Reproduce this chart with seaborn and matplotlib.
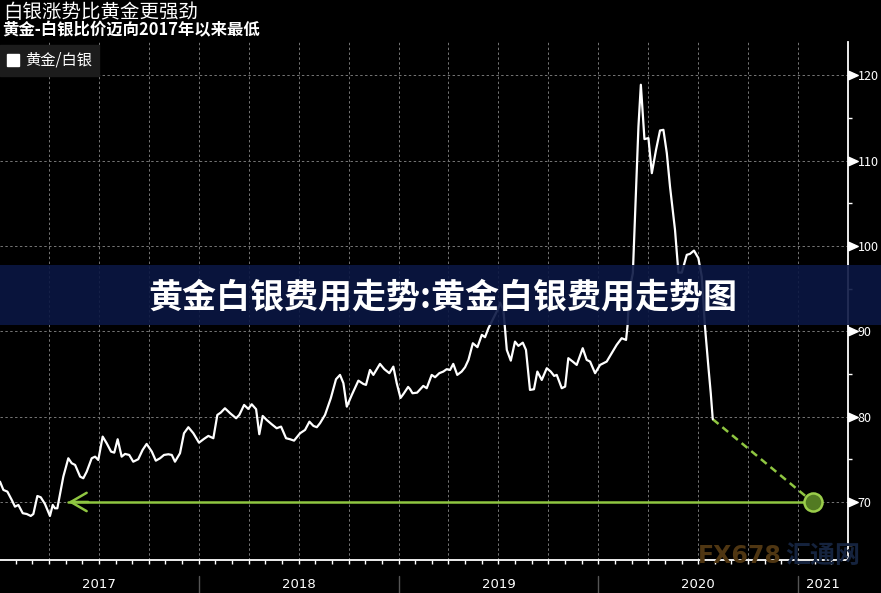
import pandas as pd
import seaborn as sns
import matplotlib.pyplot as plt
import matplotlib.transforms as mtransforms
from matplotlib.lines import Line2D
from matplotlib.patches import Rectangle

# 黄金/白银比价 (年份用小数表示, 数值从原图读取)
years = [
    2017.005, 2017.022, 2017.042, 2017.064, 2017.080, 2017.097, 2017.119, 2017.139, 2017.159, 2017.172,
    2017.192, 2017.209, 2017.230, 2017.255, 2017.269, 2017.280, 2017.292, 2017.322, 2017.347, 2017.364,
    2017.381, 2017.406, 2017.422, 2017.439, 2017.464, 2017.481, 2017.497, 2017.519, 2017.539, 2017.561,
    2017.577, 2017.594, 2017.614, 2017.631, 2017.652, 2017.672, 2017.697, 2017.719, 2017.739, 2017.765,
    2017.785, 2017.806, 2017.826, 2017.848, 2017.865, 2017.881, 2017.906, 2017.926, 2017.948, 2017.973,
    2018.001, 2018.026, 2018.048, 2018.073, 2018.093, 2018.110, 2018.131, 2018.157, 2018.187, 2018.203,
    2018.227, 2018.248, 2018.265, 2018.287, 2018.303, 2018.320, 2018.340, 2018.365, 2018.390, 2018.412,
    2018.437, 2018.457, 2018.477, 2018.507, 2018.532, 2018.554, 2018.574, 2018.591, 2018.607, 2018.632,
    2018.661, 2018.687, 2018.707, 2018.724, 2018.741, 2018.766, 2018.799, 2018.824, 2018.837, 2018.857,
    2018.874, 2018.907, 2018.929, 2018.954, 2018.974, 2018.991,
    2019.010, 2019.026, 2019.048, 2019.058, 2019.070, 2019.093, 2019.124, 2019.141, 2019.166, 2019.183,
    2019.204, 2019.224, 2019.241, 2019.258, 2019.274, 2019.294, 2019.316, 2019.333, 2019.350, 2019.372,
    2019.395, 2019.417, 2019.433, 2019.450, 2019.475, 2019.500, 2019.508, 2019.525, 2019.542, 2019.562,
    2019.583, 2019.600, 2019.622, 2019.638, 2019.658, 2019.678, 2019.695, 2019.717, 2019.742, 2019.762,
    2019.779, 2019.792, 2019.817, 2019.834, 2019.850, 2019.872, 2019.892, 2019.922, 2019.942, 2019.959,
    2019.984,
    2020.009, 2020.042, 2020.067, 2020.092, 2020.117, 2020.139, 2020.146, 2020.156, 2020.173, 2020.184,
    2020.201, 2020.213, 2020.231, 2020.251, 2020.268, 2020.289, 2020.309, 2020.326, 2020.343, 2020.359,
    2020.384, 2020.401, 2020.418, 2020.443, 2020.459, 2020.479, 2020.501, 2020.518, 2020.534, 2020.551,
    2020.563, 2020.573,
]
ratio = [
    72.38, 71.41, 71.21, 70.23, 69.45, 69.65, 68.68, 68.59, 68.36, 68.59,
    70.70, 70.55, 69.77, 68.36, 69.65, 69.26, 69.26, 72.97, 75.12, 74.54,
    74.34, 72.97, 72.78, 73.55, 75.12, 75.31, 74.92, 77.66, 76.88, 75.90,
    75.78, 77.35, 75.31, 75.63, 75.51, 74.72, 75.01, 76.10, 76.80, 75.90,
    74.84, 75.12, 75.51, 75.59, 75.51, 74.72, 75.71, 78.05, 78.76, 78.05,
    76.95, 77.39, 77.74, 77.47, 80.20, 80.47, 80.98, 80.40, 79.81, 80.20,
    81.37, 80.90, 81.45, 80.87, 77.94, 80.08, 79.61, 79.11, 78.64, 78.83,
    77.47, 77.35, 77.19, 78.05, 78.44, 79.41, 78.91, 78.76, 79.23, 80.20,
    82.16, 84.38, 84.89, 83.92, 81.17, 82.54, 84.22, 83.83, 83.72, 85.47,
    84.89, 86.18, 85.56, 85.09, 85.86, 83.92,
    82.19, 82.70, 83.48, 83.21, 82.74, 82.81, 83.60, 83.33, 84.89, 84.62,
    85.09, 85.28, 85.56, 85.47, 86.18, 84.89, 85.28, 85.79, 86.65, 88.60,
    88.14, 89.58, 89.31, 90.36, 91.54, 92.71, 93.36, 92.51, 87.82, 86.56,
    88.79, 88.29, 88.67, 87.82, 83.13, 83.21, 85.28, 84.30, 85.67, 85.28,
    84.77, 84.89, 83.33, 83.52, 86.85, 86.45, 86.06, 88.02, 86.65, 86.45,
    85.09,
    86.06, 86.45, 87.43, 88.41, 89.19, 88.99, 90.55, 94.85, 96.81, 103.45,
    114.00, 118.89, 112.52, 112.64, 108.53, 111.26, 113.53, 113.61, 110.88, 106.96,
    101.89, 96.88, 96.88, 98.96, 99.07, 99.46, 98.57, 96.41, 90.55, 85.86,
    82.74, 79.70,
]

# 2017年以来低点及目标
low_level = 70
arrow_start = 2017.347
target_year = 2021.073

year_labels = ["2017", "2018", "2019", "2020", "2021"]
year_centers = [2017.5, 2018.5, 2019.5, 2020.5, 2021.125]
year_edges = [2018, 2019, 2020, 2021]
y_ticks = [70, 80, 90, 100, 110, 120]
y_minor = [65, 75, 85, 95, 105, 115]

title = "白银涨势比黄金更强劲"
subtitle = "黄金-白银比价迈向2017年以来最低"
legend_label = "黄金/白银"
banner_text = "黄金白银费用走势:黄金白银费用走势图"

GREEN = "#8fc641"
GRID = "#767676"
NARROW = ["Liberation Sans Narrow", "DejaVu Sans Condensed", "DejaVu Sans"]

sns.set_theme(style="dark")
plt.rcParams["font.family"] = ["Noto Sans CJK SC", "DejaVu Sans"]
plt.rcParams["axes.unicode_minus"] = False

fig = plt.figure(figsize=(8.81, 5.93), dpi=100, facecolor="black")
ax = fig.add_axes([0, 33 / 593, 848 / 881, 518 / 593])
ax.set_facecolor("black")

df = pd.DataFrame({"year": years, "ratio": ratio})
sns.lineplot(data=df, x="year", y="ratio", color="white", linewidth=1.6, ax=ax, zorder=5)

# 网格 (季度竖线 + 整十横线)
quarters = [2017 + q / 4 for q in range(1, 17)]
for q in quarters:
    ax.axvline(q, color=GRID, lw=0.7, ls=(0, (2.5, 2.5)), zorder=1)
for t in y_ticks:
    ax.axhline(t, color=GRID, lw=0.7, ls=(0, (2.5, 2.5)), zorder=1)

# 绿色标注: 低点水平线 + 箭头 + 虚线 + 圆圈
ax.plot([arrow_start, target_year], [low_level, low_level], color=GREEN, lw=1.8, zorder=4)
ax.annotate("", xy=(arrow_start, low_level), xytext=(arrow_start + 0.1, low_level),
            arrowprops=dict(arrowstyle="->,head_length=0.95,head_width=0.55",
                            color=GREEN, lw=1.8, shrinkA=0, shrinkB=0), zorder=4)
ax.plot([years[-1], target_year], [ratio[-1], low_level], color=GREEN, lw=1.8,
        ls=(0, (3, 2)), zorder=4)
ax.plot([target_year], [low_level], marker="o", ms=13, mfc="#527a22", mec="#9acd4a",
        mew=1.8, ls="none", zorder=6)

ax.set_xlim(2017.005, 2021.25)
ax.set_ylim(63.2, 123.9)
ax.set_xlabel("")
ax.set_ylabel("")

# 坐标轴
for s in ["top", "left"]:
    ax.spines[s].set_visible(False)
for s in ["right", "bottom"]:
    ax.spines[s].set_visible(True)
    ax.spines[s].set_color("white")
    ax.spines[s].set_linewidth(1.3)

ax.yaxis.tick_right()
ax.set_yticks(y_ticks)
ax.set_yticks(y_minor, minor=True)
ax.set_yticklabels([str(t) for t in y_ticks])
ax.tick_params(axis="y", which="major", length=0, pad=7, labelcolor="white", labelsize=9)
ax.tick_params(axis="y", which="minor", length=3, color="white", width=1, direction="out", right=True)

months = [2017 + m / 12 for m in range(1, 51)]
ax.set_xticks(months)
ax.tick_params(axis="x", which="major", length=3, color="white", width=1, direction="out",
               bottom=True, labelbottom=False)

# 右侧刻度三角
ytrans = mtransforms.blended_transform_factory(ax.transAxes, ax.transData)
tri = [(0, -0.45), (1, 0), (0, 0.45), (0, -0.45)]
ax.plot([1.0] * len(y_ticks), y_ticks, ls="none", marker=tri, ms=14, color="white",
        mec="white", transform=ytrans, clip_on=False, zorder=7)

# 年份标签和分隔线
xtrans = mtransforms.blended_transform_factory(ax.transData, ax.transAxes)
for c, lab in zip(year_centers, year_labels):
    ax.text(c, -25 / 518, lab, transform=xtrans, ha="center", va="center",
            color="white", fontsize=9.5, family=NARROW)
for e in year_edges:
    ax.plot([e, e], [-16 / 518, -33 / 518], transform=xtrans, color="#555555",
            lw=1, clip_on=False)

# 图例
handle = Line2D([], [], ls="none", marker="s", color="white", ms=8)
leg = ax.legend([handle], [legend_label], loc="upper left", bbox_to_anchor=(0, 1 - 3 / 518),
                borderaxespad=0, frameon=True, fancybox=False, facecolor="#1c1c1c",
                edgecolor="#1c1c1c", framealpha=1, handlelength=0.8, handletextpad=0.4,
                borderpad=0.45, prop={"size": 11})
for txt in leg.get_texts():
    txt.set_color("white")

# 标题 (按基线定位)
fig.text(3 / 881, (593 - 17.5) / 593, title, ha="left", va="baseline", fontsize=14,
         color="white")
fig.text(2 / 881, (593 - 35.5) / 593, subtitle, ha="left", va="baseline", fontsize=11.8,
         fontweight="bold", color="white")

# 水印
fig.text(698 / 881, (593 - 556) / 593, "FX678", ha="left", va="center", fontsize=17,
         fontweight="bold", color="#4f3612", family=NARROW, zorder=9)
fig.text(785 / 881, (593 - 556) / 593, "汇通网", ha="left", va="center", fontsize=18,
         fontweight="bold", color="#15233e", zorder=9)

# 横幅
fig.add_artist(Rectangle((0, 268 / 593), 1, 60 / 593, transform=fig.transFigure,
                         facecolor="#0b1743", edgecolor="none", alpha=0.9, zorder=10))
fig.text(443 / 881, (593 - 297) / 593, banner_text, ha="center", va="center",
         fontsize=24.5, fontweight="black", color="white", zorder=11)

fig.savefig("out.png", dpi=100, facecolor="black")
